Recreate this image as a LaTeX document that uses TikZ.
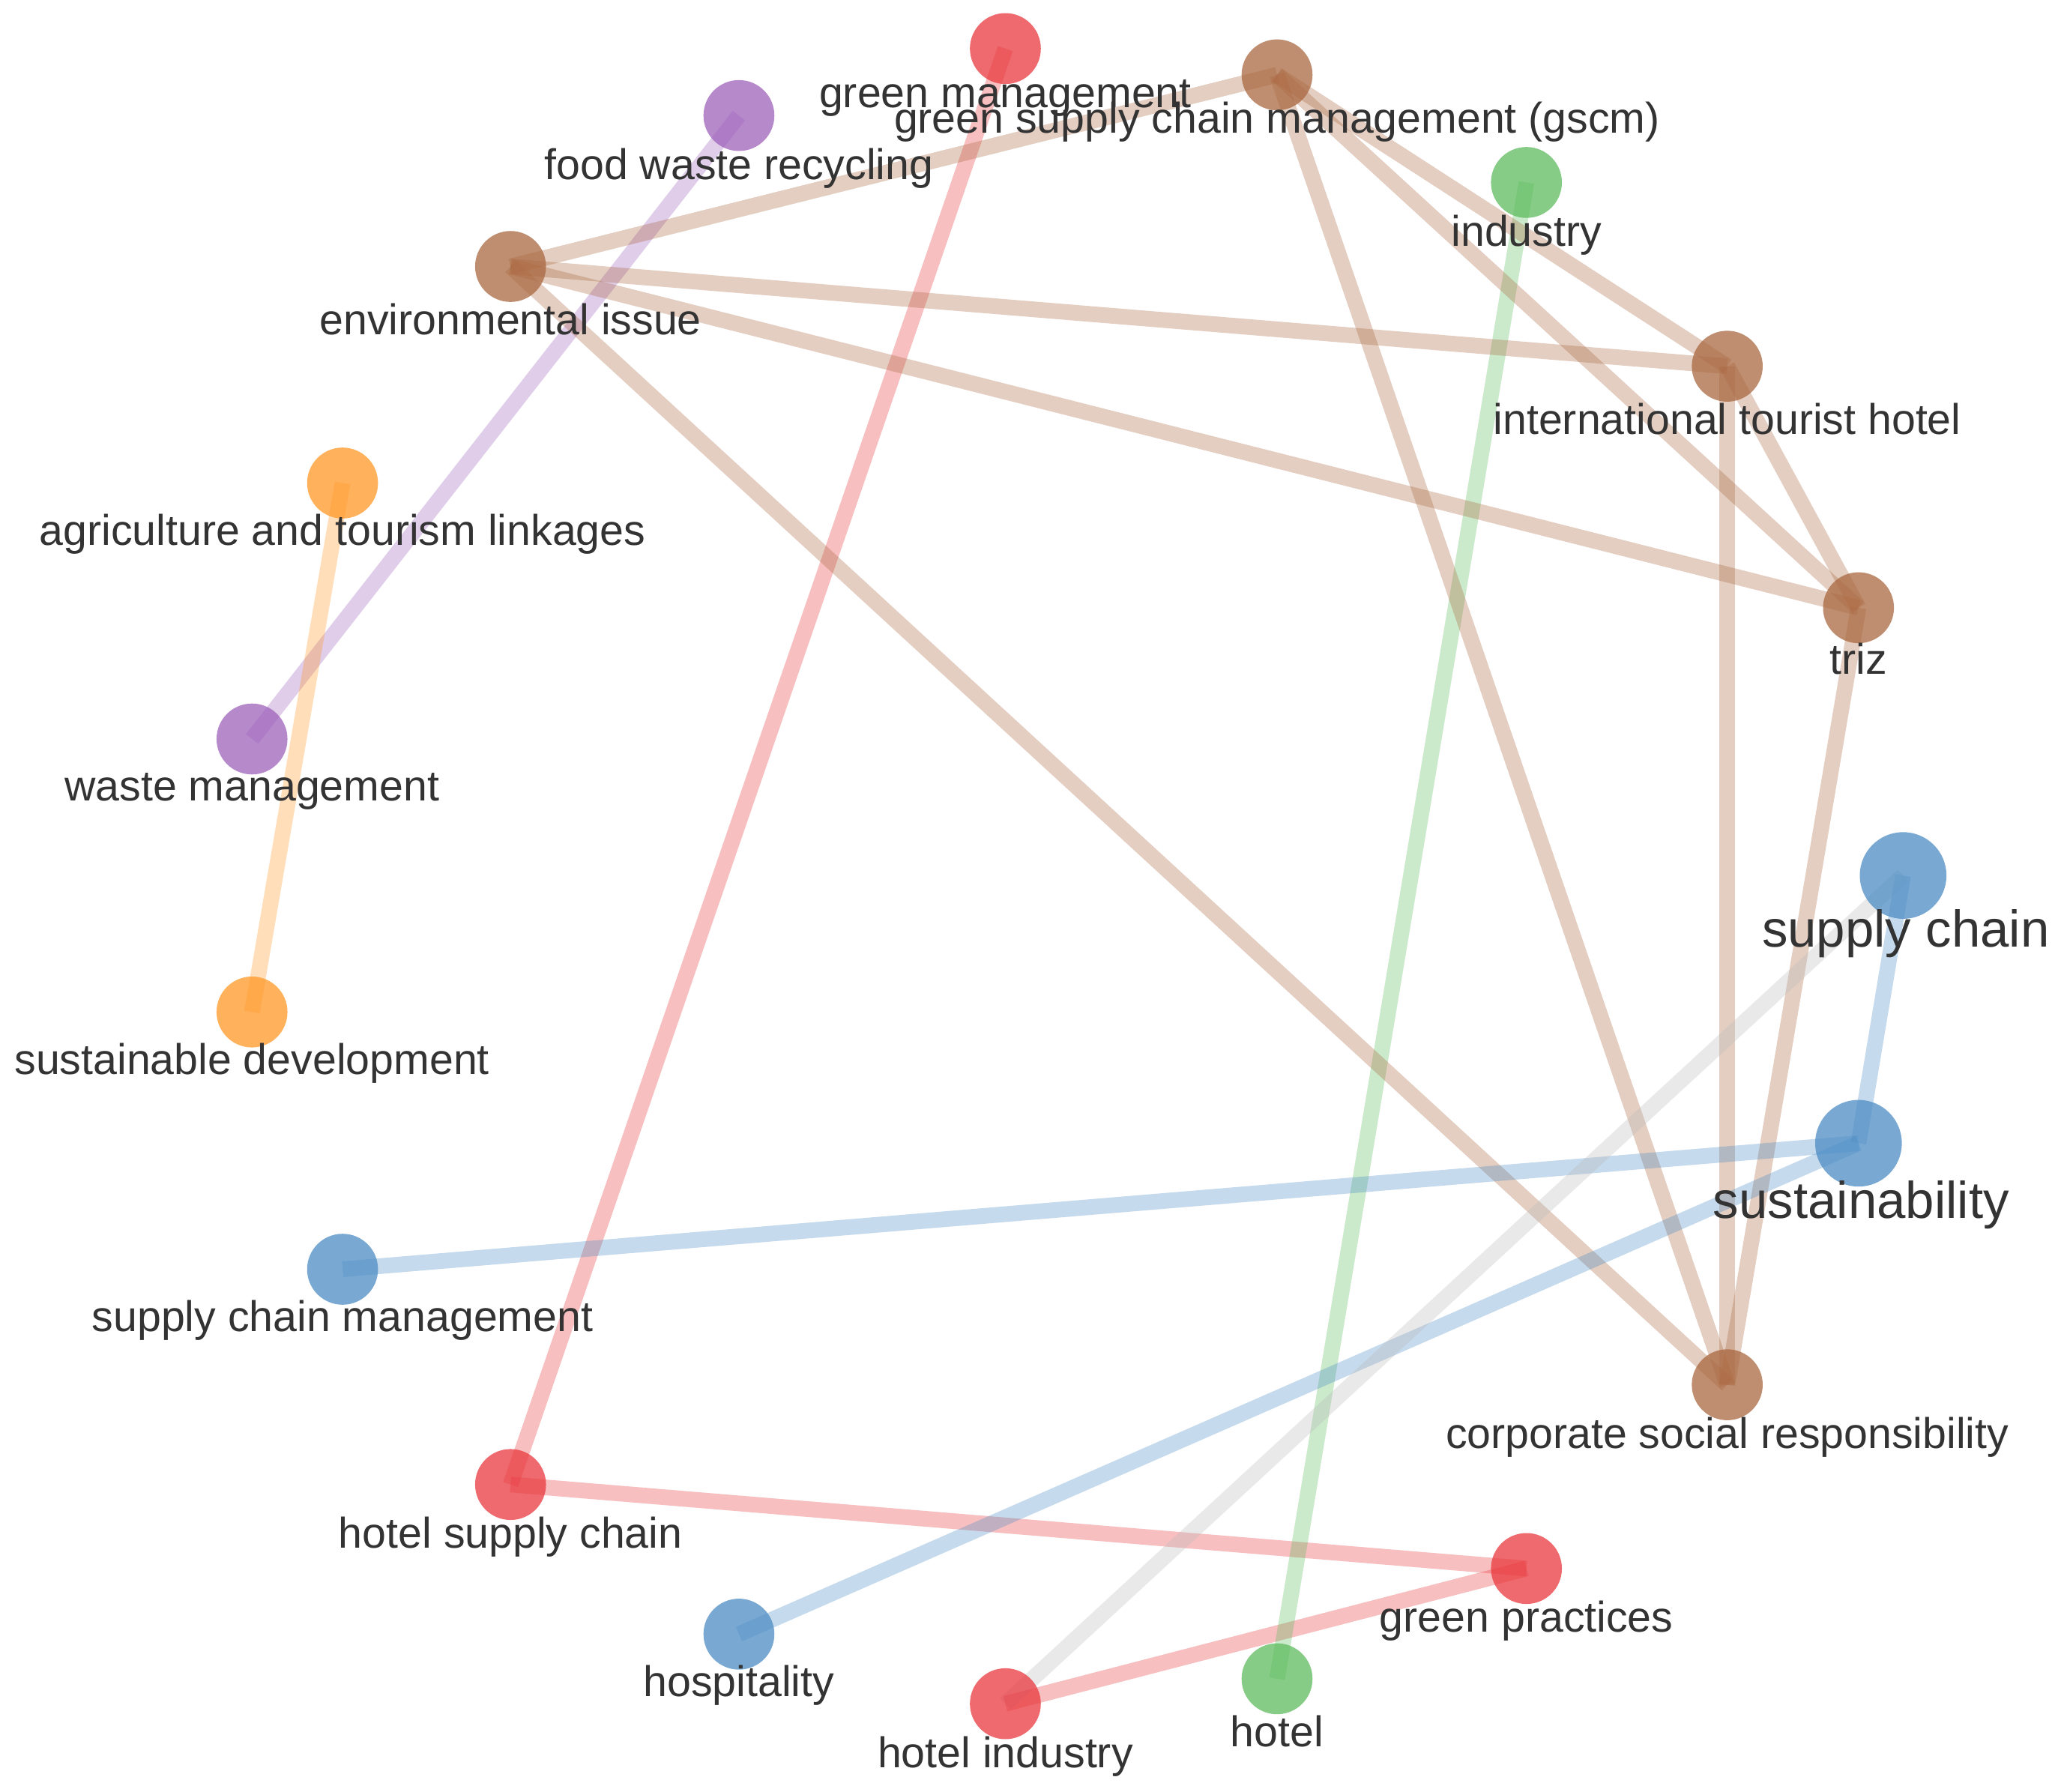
\documentclass[tikz,border=0pt]{standalone}
\usepackage{fontspec}
\setmainfont{Liberation Sans}
\begin{document}
\begin{tikzpicture}[x=0.01cm,y=-0.01cm,
  nd/.style={circle,minimum size=0.54cm,inner sep=0pt,fill opacity=0.75,draw=none},
  bg/.style={circle,minimum size=0.66cm,inner sep=0pt,fill opacity=0.75,draw=none},
  ed/.style={line width=3.4pt,draw opacity=0.32},
  lb/.style={font=\fontsize{9.3}{10}\selectfont,text=black!80,text opacity=1},
  lbb/.style={font=\fontsize{11.2}{12}\selectfont,text=black!80}]
\definecolor{cr}{HTML}{E8383D}\definecolor{cb}{HTML}{A9673F}\definecolor{cp}{HTML}{9E62BA}
\definecolor{cg}{HTML}{5DBB5D}\definecolor{co}{HTML}{FF9726}\definecolor{cbl}{HTML}{4C8CC4}
\definecolor{cgr}{HTML}{BBBBBB}
\useasboundingbox (0,0) rectangle (1568,1365);
\coordinate (GM) at (766,37);\coordinate (GS) at (973,57);\coordinate (FW) at (563,88);
\coordinate (IN) at (1163,139);\coordinate (EI) at (389,203);\coordinate (IT) at (1316,279);
\coordinate (AT) at (261,368);\coordinate (TR) at (1416,463);\coordinate (WM) at (192,563);
\coordinate (SC) at (1450,667);\coordinate (SD) at (192,771);\coordinate (SU) at (1416,871);
\coordinate (SM) at (261,967);\coordinate (CS) at (1316,1055);\coordinate (HS) at (389,1131);
\coordinate (GP) at (1163,1195);\coordinate (HO) at (563,1245);\coordinate (HT) at (973,1279);
\coordinate (HI) at (766,1298);
% edges
\draw[ed,cr] (GM)--(HS); \draw[ed,cr] (HS)--(GP); \draw[ed,cr] (GP)--(HI);
\draw[ed,cp] (FW)--(WM); \draw[ed,co] (AT)--(SD); \draw[ed,cg] (IN)--(HT);
\draw[ed,cb] (GS)--(EI); \draw[ed,cb] (GS)--(IT); \draw[ed,cb] (GS)--(TR); \draw[ed,cb] (GS)--(CS);
\draw[ed,cb] (EI)--(IT); \draw[ed,cb] (EI)--(TR); \draw[ed,cb] (EI)--(CS);
\draw[ed,cb] (IT)--(CS); \draw[ed,cb] (IT)--(TR); \draw[ed,cb] (TR)--(CS);
\draw[ed,cbl] (SC)--(SU); \draw[ed,cbl] (SU)--(SM); \draw[ed,cbl] (SU)--(HO);
\draw[ed,cgr] (SC)--(HI);
% nodes
\node[nd,fill=cr] (n1) at (GM) {}; \node[nd,fill=cb] (n2) at (GS) {};
\node[nd,fill=cp] (n3) at (FW) {}; \node[nd,fill=cg] (n4) at (IN) {};
\node[nd,fill=cb] (n5) at (EI) {}; \node[nd,fill=cb] (n6) at (IT) {};
\node[nd,fill=co] (n7) at (AT) {}; \node[nd,fill=cb] (n8) at (TR) {};
\node[nd,fill=cp] (n9) at (WM) {}; \node[bg,fill=cbl] (n10) at (SC) {};
\node[nd,fill=co] (n11) at (SD) {}; \node[bg,fill=cbl] (n12) at (SU) {};
\node[nd,fill=cbl] (n13) at (SM) {}; \node[nd,fill=cb] (n14) at (CS) {};
\node[nd,fill=cr] (n15) at (HS) {}; \node[nd,fill=cr] (n16) at (GP) {};
\node[nd,fill=cbl] (n17) at (HO) {}; \node[nd,fill=cg] (n18) at (HT) {};
\node[nd,fill=cr] (n19) at (HI) {};
% labels
\node[lb] (l1) at (766,75) {green management};
\node[lb] (l2) at (973,93) {green supply chain management (gscm)};
\node[lb] (l3) at (563,128) {food waste recycling};
\node[lb] (l4) at (1163,179) {industry};
\node[lb] (l5) at (389,243) {environmental issue};
\node[lb] (l6) at (1316,319) {international tourist hotel};
\node[lb] (l7) at (261,407) {agriculture and tourism linkages};
\node[lb] (l8) at (1416,502) {triz};
\node[lb] (l9) at (192,603) {waste management};
\node[lbb] (l10) at (1452,711) {supply chain};
\node[lb] (l11) at (192,810) {sustainable development};
\node[lbb] (l12) at (1418,918) {sustainability};
\node[lb] (l13) at (261,1006) {supply chain management};
\node[lb] (l14) at (1316,1095) {corporate social responsibility};
\node[lb] (l15) at (389,1171) {hotel supply chain};
\node[lb] (l16) at (1163,1235) {green practices};
\node[lb] (l17) at (563,1284) {hospitality};
\node[lb] (l18) at (973,1319) {hotel};
\node[lb] (l19) at (766,1338) {hotel industry};
\end{tikzpicture}
\end{document}
